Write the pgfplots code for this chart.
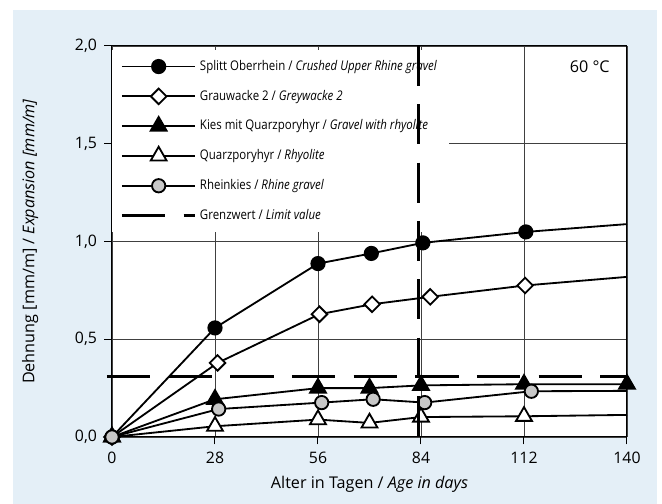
\documentclass[border=0pt]{standalone}
\usepackage{fontspec}
\setmainfont{Open Sans}
\newfontfamily\legfont[FakeStretch=0.86]{Open Sans}
\usepackage{pgfplots}
\pgfplotsset{compat=1.18}
\definecolor{bg}{RGB}{228,239,247}
\definecolor{mgrey}{RGB}{200,200,200}

\begin{document}
\begin{tikzpicture}
\path[use as bounding box] (-67.2pt,-40.2pt) rectangle (330pt,262.2pt);
\fill[bg] (-59.4pt,-40.2pt) rectangle (327pt,256.2pt);
\begin{axis}[
 at={(0,0)}, anchor=south west,
 scale only axis, width=309pt, height=234.6pt,
 xmin=0, xmax=140, ymin=0, ymax=2,
 xtick={0,28,56,84,112,140}, ytick={0,0.5,1,1.5,2},
 grid=major, grid style={black!75, line width=0.4pt},
 axis line style={line width=0.6pt},
 tick align=outside, tick pos=left, major tick length=4.5pt,
 tick style={black, line width=0.6pt},
 /pgf/number format/assume math mode=true,
 ticklabel style={font=\fontsize{9.5}{11}\selectfont},
 yticklabel style={xshift=-1pt, /pgf/number format/.cd, use comma, fixed, fixed zerofill, precision=1},
 xticklabel style={yshift=-1pt},
 xlabel={Alter in Tagen / \textit{Age in days}},
 ylabel={Dehnung [mm/m] / \textit{Expansion [mm/m]}},
 xlabel style={at={(axis description cs:0.5,-0.12)}, anchor=center, font=\fontsize{9.7}{11}\selectfont},
 ylabel style={at={(axis description cs:-0.159,0.5)}, anchor=center, font=\fontsize{9.7}{11}\selectfont},
 axis background/.style={fill=white},
 clip=false,
 legend style={at={(axis description cs:0,0.99)}, anchor=north west, draw=none, fill=white,
   font=\legfont\fontsize{8}{9}\selectfont, row sep=6.3pt, inner xsep=5pt, inner ysep=4pt},
 legend cell align=left,
 legend image code/.code={\draw[mark repeat=2,mark phase=2] plot coordinates {(0pt,0pt) (22pt,0pt) (44pt,0pt)};},
]
% Splitt Oberrhein
\addplot[black, line width=1.1pt, forget plot] coordinates {(112.5,1.049) (140,1.089)};
\addplot[black, line width=1.1pt, mark=*, mark size=4pt, mark options={fill=black, solid}]
 coordinates {(0,0) (28,0.558) (56,0.887) (70.5,0.939) (84.5,0.993) (112.5,1.049)};
\addlegendentry{Splitt Oberrhein / \textit{Crushed Upper Rhine gravel}}
% Grauwacke
\addplot[black, line width=1.1pt, forget plot] coordinates {(112.3,0.775) (140,0.819)};
\addplot[black, line width=1.1pt, mark=square*, mark size=3.3pt, mark options={fill=white, rotate=45, solid}]
 coordinates {(0,0) (28.7,0.379) (56.4,0.628) (70.7,0.679) (86.5,0.717) (112.3,0.775)};
\addlegendentry{Grauwacke 2 / \textit{Greywacke 2}}
% Kies mit Quarzporphyr
\addplot[black, line width=1.1pt, mark=triangle*, mark size=5.5pt, mark options={fill=black, solid}]
 coordinates {(0,0) (28,0.193) (56,0.25) (70,0.25) (84,0.264) (112,0.27) (140,0.27)};
\addlegendentry{Kies mit Quarzporyhyr / \textit{Gravel with rhyolite}}
% Quarzporphyr
\addplot[black, line width=1.1pt, forget plot] coordinates {(112,0.106) (140,0.113)};
\addplot[black, line width=1.1pt, mark=triangle*, mark size=5.5pt, mark options={fill=white, solid}]
 coordinates {(0,0) (28,0.055) (56,0.089) (70,0.072) (84,0.102) (112,0.106)};
\addlegendentry{Quarzporyhyr / \textit{Rhyolite}}
% Rheinkies
\addplot[black, line width=1.1pt, forget plot] coordinates {(114,0.234) (140,0.236)};
\addplot[black, line width=1.1pt, mark=*, mark size=4pt, mark options={fill=mgrey, solid}]
 coordinates {(0,0) (29,0.143) (57,0.176) (71,0.193) (85,0.176) (114,0.234)};
\addlegendentry{Rheinkies / \textit{Rhine gravel}}
% Limit
\addplot[black, line width=1.6pt, dash pattern=on 26pt off 11pt]
 coordinates {(-1.4,0.31) (140,0.31)};
\addlegendentry{Grenzwert / \textit{Limit value}}
\node[anchor=north east, inner sep=0pt, font=\fontsize{9.7}{11}\selectfont] at (rel axis cs:0.967,0.962) {60 °C};
\end{axis}
\begin{axis}[
 at={(0,0)}, anchor=south west,
 scale only axis, width=309pt, height=234.6pt,
 xmin=0, xmax=140, ymin=0, ymax=2,
 hide axis, clip=false,
]
\addplot[black, line width=1.6pt, dash pattern=on 24pt off 11pt]
 coordinates {(83.3,2) (83.3,-0.025)};
\end{axis}
\end{tikzpicture}
\end{document}
